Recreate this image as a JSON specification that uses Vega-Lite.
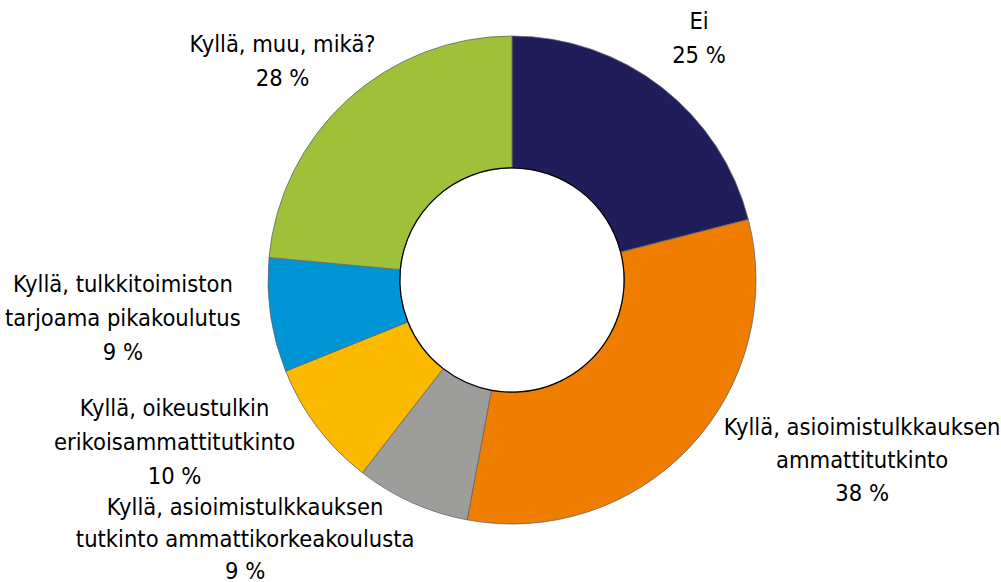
{
  "$schema": "https://vega.github.io/schema/vega-lite/v6.json",
  "width": 978,
  "height": 560,
  "autosize": "none",
  "padding": {"left": 23, "top": 0, "right": 0, "bottom": 22},
  "background": "white",
  "view": {"stroke": null},
  "data": {
    "values": [
      {"i": 1, "cat": "Ei", "value": 25, "label": "Ei\n25 %", "grp": "top"},
      {"i": 2, "cat": "Kyllä, asioimistulkkauksen ammattitutkinto", "value": 38, "label": "Kyllä, asioimistulkkauksen\nammattitutkinto\n38 %", "grp": "right"},
      {"i": 3, "cat": "Kyllä, asioimistulkkauksen tutkinto ammattikorkeakoulusta", "value": 9, "label": "Kyllä, asioimistulkkauksen\ntutkinto ammattikorkeakoulusta\n9 %", "grp": "bottom"},
      {"i": 4, "cat": "Kyllä, oikeustulkin erikoisammattitutkinto", "value": 10, "label": "Kyllä, oikeustulkin\nerikoisammattitutkinto\n10 %", "grp": "left"},
      {"i": 5, "cat": "Kyllä, tulkkitoimiston tarjoama pikakoulutus", "value": 9, "label": "Kyllä, tulkkitoimiston\ntarjoama pikakoulutus\n9 %", "grp": "left"},
      {"i": 6, "cat": "Kyllä, muu, mikä?", "value": 28, "label": "Kyllä, muu, mikä?\n28 %", "grp": "topleft"}
    ]
  },
  "encoding": {
    "theta": {"field": "value", "type": "quantitative", "stack": true},
    "order": {"field": "i", "type": "quantitative"}
  },
  "layer": [
    {
      "mark": {"type": "arc", "radius": 244, "innerRadius": 112, "stroke": "#666666", "strokeWidth": 0.8},
      "encoding": {
        "color": {
          "field": "cat",
          "type": "nominal",
          "legend": null,
          "scale": {
            "domain": ["Ei", "Kyllä, asioimistulkkauksen ammattitutkinto", "Kyllä, asioimistulkkauksen tutkinto ammattikorkeakoulusta", "Kyllä, oikeustulkin erikoisammattitutkinto", "Kyllä, tulkkitoimiston tarjoama pikakoulutus", "Kyllä, muu, mikä?"],
            "range": ["#1f1d5a", "#ee7d00", "#9d9d9c", "#fbb900", "#0096d6", "#9fc13a"]
          }
        }
      }
    },
    {
      "mark": {"type": "arc", "radius": 112.8, "innerRadius": 111.6, "fill": "#000000", "strokeWidth": 0}
    },
    {
      "mark": {"type": "text", "radius": 305, "dy": -17, "align": "center", "baseline": "middle", "lineBreak": "\n", "lineHeight": 34, "font": "DejaVu Sans Condensed", "fontSize": 23.5, "color": "#000000"},
      "encoding": {"text": {"condition": {"test": "datum.grp === 'top'", "field": "label"}, "value": ""}}
    },
    {
      "mark": {"type": "text", "radius": 305, "dx": -24, "dy": -10, "align": "center", "baseline": "middle", "lineBreak": "\n", "lineHeight": 34, "font": "DejaVu Sans Condensed", "fontSize": 23.5, "color": "#000000"},
      "encoding": {"text": {"condition": {"test": "datum.grp === 'topleft'", "field": "label"}, "value": ""}}
    },
    {
      "mark": {"type": "text", "radius": 270, "dx": 153, "dy": -37, "align": "center", "baseline": "middle", "lineBreak": "\n", "lineHeight": 33, "font": "DejaVu Sans Condensed", "fontSize": 23.5, "color": "#000000"},
      "encoding": {"text": {"condition": {"test": "datum.grp === 'right'", "field": "label"}, "value": ""}}
    },
    {
      "mark": {"type": "text", "radius": 270, "dx": -122, "dy": -34, "align": "center", "baseline": "middle", "lineBreak": "\n", "lineHeight": 34, "font": "DejaVu Sans Condensed", "fontSize": 23.5, "color": "#000000"},
      "encoding": {"text": {"condition": {"test": "datum.grp === 'left'", "field": "label"}, "value": ""}}
    },
    {
      "mark": {"type": "text", "radius": 285, "dx": -150, "dy": -32, "align": "center", "baseline": "middle", "lineBreak": "\n", "lineHeight": 32, "font": "DejaVu Sans Condensed", "fontSize": 23.5, "color": "#000000"},
      "encoding": {"text": {"condition": {"test": "datum.grp === 'bottom'", "field": "label"}, "value": ""}}
    }
  ]
}
